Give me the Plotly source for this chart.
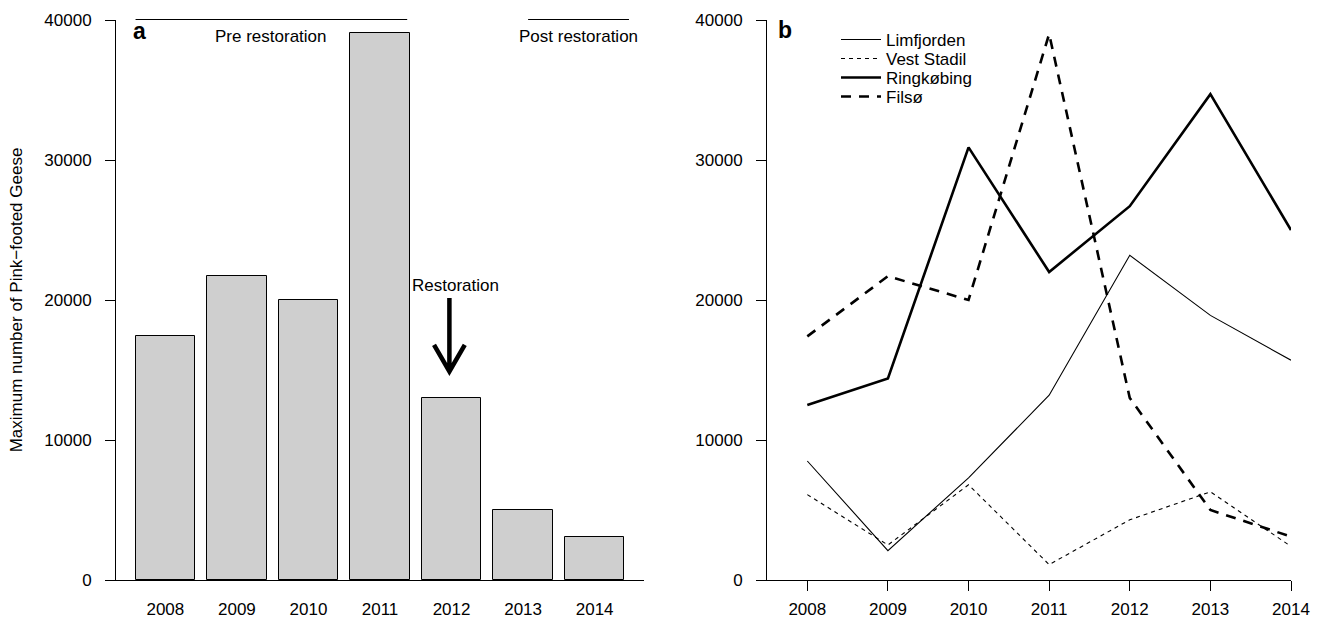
import plotly.graph_objects as go

# ---------------- data ----------------
years = [2008, 2009, 2010, 2011, 2012, 2013, 2014]
year_labels = ["2008", "2009", "2010", "2011", "2012", "2013", "2014"]
filso_max = [17400, 21700, 20000, 39100, 13000, 5000, 3100]

limfjorden = [8500, 2100, 7300, 13200, 23200, 18900, 15700]
vest_stadil = [6100, 2500, 6800, 1100, 4300, 6300, 2400]
ringkobing = [12500, 14400, 30900, 22000, 26700, 34700, 25000]
filso = [17400, 21700, 20000, 39000, 13000, 5000, 3100]

y_ticks = [0, 10000, 20000, 30000, 40000]
y_tick_labels = ["0", "10000", "20000", "30000", "40000"]

restoration_year = 2012

W, H = 1322, 620
FONT = "Liberation Sans, Arial, Helvetica, sans-serif"
FS = 17


def py(px):
    """paper y from pixel row"""
    return 1 - px / H


fig = go.Figure()

# ---------------- panel a ----------------
fig.add_trace(go.Bar(
    x=years, y=filso_max, width=0.8333,
    marker=dict(color="#cfcfcf", line=dict(color="#000000", width=1)),
    xaxis="x", yaxis="y", showlegend=False, hoverinfo="x+y",
))

# ---------------- panel b ----------------
series = [
    ("Limfjorden", limfjorden, 1.1, "solid", "legend"),
    ("Vest Stadil", vest_stadil, 1.1, "4px,4px", "legend2"),
    ("Ringkøbing", ringkobing, 2.6, "solid", "legend3"),
    ("Filsø", filso, 2.6, "10px,8px", "legend4"),
]
for name, vals, lw, dash, lg in series:
    fig.add_trace(go.Scatter(
        x=years, y=vals, mode="lines", name=name,
        line=dict(color="#000000", width=lw, dash=dash),
        xaxis="x2", yaxis="y2", legend=lg,
    ))

ydom = [40 / H, 600 / H]
tickfont = dict(family=FONT, size=FS, color="#000")
common_y = dict(
    range=[0, 40000], tickvals=y_ticks, ticktext=y_tick_labels,
    showline=True, linecolor="#000", linewidth=1,
    ticks="outside", ticklen=10, tickcolor="#000", tickwidth=1,
    showgrid=False, zeroline=False, domain=ydom, automargin=False,
    tickfont=tickfont, ticklabelstandoff=10,
)
common_x = dict(
    tickvals=years, ticktext=year_labels,
    showline=True, linecolor="#000", linewidth=1,
    ticks="outside", ticklen=10, tickwidth=1,
    showgrid=False, zeroline=False, automargin=False,
    tickfont=tickfont, ticklabelstandoff=4,
)

legend_rows = [40, 59, 78, 97]
legend_common = dict(
    x=836 / W, xanchor="left", yanchor="middle",
    bgcolor="rgba(0,0,0,0)", borderwidth=0,
    font=dict(family=FONT, size=FS, color="#000"),
    itemwidth=40,
)

fig.update_layout(
    template="none",
    width=W, height=H,
    margin=dict(l=0, r=0, t=0, b=0, autoexpand=False),
    paper_bgcolor="white", plot_bgcolor="white",
    font=dict(family=FONT, size=FS, color="#000"),
    bargap=0,
    xaxis=dict(domain=[116 / W, 644 / W], range=[2008 - 0.69, 2014 + 0.69],
               anchor="y", tickcolor="rgba(0,0,0,0)", **common_x),
    yaxis=dict(anchor="x", **common_y,
               title=dict(text="Maximum number of Pink\u2212footed Geese",
                          font=dict(family=FONT, size=FS, color="#000"),
                          standoff=17)),
    xaxis2=dict(domain=[767 / W, 1291 / W], range=[2007.5, 2014],
                anchor="y2", tickcolor="#000", **common_x),
    yaxis2=dict(anchor="x2", **common_y),
    legend=dict(y=py(legend_rows[0]), **legend_common),
    legend2=dict(y=py(legend_rows[1]), **legend_common),
    legend3=dict(y=py(legend_rows[2]), **legend_common),
    legend4=dict(y=py(legend_rows[3]), **legend_common),
)

# ---------------- annotations panel a ----------------
pre_span = [years[0] - 0.4167, years[3] + 0.38]
post_span = [years[5] + 0.07, years[6] + 0.48]
top_line_y = py(19.5)
shapes = [
    dict(type="line", xref="x", yref="paper", x0=pre_span[0], x1=pre_span[1],
         y0=top_line_y, y1=top_line_y, line=dict(color="#000", width=1)),
    dict(type="line", xref="x", yref="paper", x0=post_span[0], x1=post_span[1],
         y0=top_line_y, y1=top_line_y, line=dict(color="#000", width=1)),
    # restoration arrow
    dict(type="path", xref="x", yref="y",
         path=f"M {restoration_year - 0.03},20150 L {restoration_year - 0.03},14900 "
              f"M {restoration_year - 0.245},16800 L {restoration_year - 0.03},14900 "
              f"L {restoration_year + 0.185},16800",
         line=dict(color="#000", width=4.5)),
]
fig.update_layout(shapes=shapes)

annotations = [
    dict(text="Pre restoration", xref="x", yref="paper",
         x=(pre_span[0] + pre_span[1]) / 2, y=py(36), yanchor="middle",
         showarrow=False, font=dict(family=FONT, size=FS, color="#000")),
    dict(text="Post restoration", xref="x", yref="paper",
         x=(post_span[0] + post_span[1]) / 2, y=py(36), yanchor="middle",
         showarrow=False, font=dict(family=FONT, size=FS, color="#000")),
    dict(text="Restoration", xref="x", yref="y",
         x=restoration_year + 0.055, y=21070, showarrow=False,
         font=dict(family=FONT, size=FS, color="#000")),
    dict(text="<b>a</b>", xref="paper", yref="paper",
         x=131 / W, y=py(31), xanchor="left", yanchor="middle", showarrow=False,
         font=dict(family=FONT, size=23, color="#000")),
    dict(text="<b>b</b>", xref="paper", yref="paper",
         x=776 / W, y=py(30), xanchor="left", yanchor="middle", showarrow=False,
         font=dict(family=FONT, size=23, color="#000")),
]
fig.update_layout(annotations=annotations)

# the page body has a default 8px margin: remove it so the figure fills the window
fig.write_html(
    "out.html",
    config={"displayModeBar": False},
    post_script="document.body.style.margin='0px';document.body.style.overflow='hidden';",
)
